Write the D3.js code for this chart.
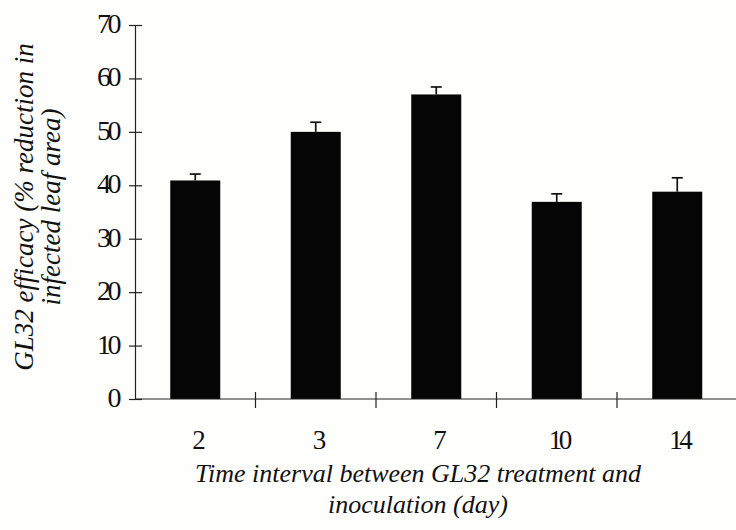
<!DOCTYPE html>
<html>
<head>
<meta charset="utf-8">
<script src="https://cdn.jsdelivr.net/npm/d3@7"></script>
<style>
  body { margin: 0; background: #fefefc; }
  svg { display: block; }
  svg text { font-family: "Liberation Serif", "Times New Roman", serif; }
</style>
</head>
<body>
<div id="chart"></div>
<script>
const days = ["2", "3", "7", "10", "14"];
const efficacy = [40.9, 50.0, 57.0, 36.9, 38.8];
const stdError = [1.2, 1.8, 1.4, 1.5, 2.6];
const yTicks = [0, 10, 20, 30, 40, 50, 60, 70];

const width = 736, height = 530;
const margin = { top: 25, right: 0, bottom: 131, left: 135 };

const svg = d3.select("#chart").append("svg")
    .attr("width", width)
    .attr("height", height);

const x = d3.scaleBand()
    .domain(days)
    .range([margin.left, margin.left + 120.5 * days.length])
    .paddingInner(0.585)
    .paddingOuter(0.2925);

const y = d3.scaleLinear()
    .domain([0, 70])
    .range([height - margin.bottom, margin.top]);

const data = days.map((d, i) => ({ day: d, value: efficacy[i], se: stdError[i] }));

// bars
svg.append("g")
    .selectAll("rect")
    .data(data)
    .join("rect")
    .attr("x", d => x(d.day))
    .attr("y", d => y(d.value))
    .attr("width", x.bandwidth())
    .attr("height", d => y(0) - y(d.value))
    .attr("fill", "#050505");

// error bars
const err = svg.append("g").attr("stroke", "#111").attr("stroke-width", 1.7);
err.selectAll("line.v")
    .data(data)
    .join("line")
    .attr("class", "v")
    .attr("x1", d => x(d.day) + x.bandwidth() / 2)
    .attr("x2", d => x(d.day) + x.bandwidth() / 2)
    .attr("y1", d => y(d.value))
    .attr("y2", d => y(d.value + d.se));
err.selectAll("line.cap")
    .data(data)
    .join("line")
    .attr("class", "cap")
    .attr("x1", d => x(d.day) + x.bandwidth() / 2 - 5.5)
    .attr("x2", d => x(d.day) + x.bandwidth() / 2 + 5.5)
    .attr("y1", d => y(d.value + d.se))
    .attr("y2", d => y(d.value + d.se));

// y axis
const yAxis = svg.append("g")
    .attr("transform", `translate(${margin.left},0)`)
    .call(d3.axisLeft(y).tickValues(yTicks).tickSize(6).tickPadding(11).tickSizeOuter(0));
yAxis.attr("font-family", null);
yAxis.select(".domain").attr("stroke", "#222").attr("stroke-width", 1.2);
yAxis.selectAll(".tick line")
    .attr("x1", 7)
    .attr("x2", -6)
    .attr("stroke", "#222")
    .attr("stroke-width", 1.2);
yAxis.selectAll(".tick text")
    .attr("font-size", 28)
    .attr("dy", "0.27em")
    .attr("fill", "#111")
    .style("letter-spacing", "-3.5px");

// x axis
const xAxis = svg.append("g")
    .attr("transform", `translate(0,${y(0)})`)
    .call(d3.axisBottom(x).tickSize(0).tickPadding(31));
xAxis.attr("font-family", null);
xAxis.select(".domain")
    .attr("d", `M${margin.left},0H${width}`)
    .attr("stroke", "#222")
    .attr("stroke-width", 1.2);
xAxis.selectAll(".tick text")
    .attr("font-size", 27)
    .attr("dx", "2")
    .attr("fill", "#111")
    .style("letter-spacing", "-3.5px");

// tick marks between categories
const boundaries = days.slice(1).map(d => x(d) - x.step() * x.paddingInner() / 2);
xAxis.selectAll("line.sep")
    .data(boundaries)
    .join("line")
    .attr("class", "sep")
    .attr("x1", d => d)
    .attr("x2", d => d)
    .attr("y1", -7)
    .attr("y2", 9)
    .attr("stroke", "#222")
    .attr("stroke-width", 1.2);

// axis titles
const xTitle = svg.append("text")
    .attr("text-anchor", "middle")
    .attr("font-style", "italic")
    .attr("font-size", 26)
    .attr("fill", "#111");
xTitle.append("tspan").attr("x", 418).attr("y", 482).text("Time interval between GL32 treatment and");
xTitle.append("tspan").attr("x", 418).attr("y", 513).text("inoculation (day)");

const yTitle = svg.append("text")
    .attr("text-anchor", "middle")
    .attr("font-style", "italic")
    .attr("font-size", 27)
    .attr("fill", "#111")
    .attr("transform", "translate(0,207) rotate(-90)");
yTitle.append("tspan").attr("x", 0).attr("y", 33).text("GL32 efficacy (% reduction in");
yTitle.append("tspan").attr("x", 0).attr("y", 60).text("infected leaf area)");
</script>
</body>
</html>
